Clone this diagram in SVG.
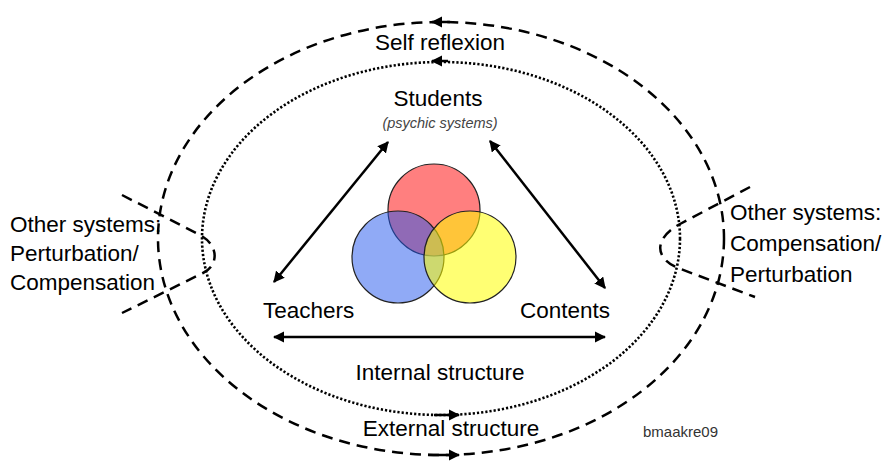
<svg xmlns="http://www.w3.org/2000/svg" width="889" height="474" viewBox="0 0 889 474">
<defs>
<style>
text{font-family:"Liberation Sans",Arial,sans-serif;fill:#000}
.lbl{font-size:22.5px}
.mid{text-anchor:middle}
.dash{fill:none;stroke:#000;stroke-width:2.5;stroke-dasharray:11 7}
.dot{fill:none;stroke:#000;stroke-width:2.6;stroke-dasharray:2.2 2}
.arr{fill:none;stroke:#000;stroke-width:2.5}
.circ{stroke:#222;stroke-width:1.2}
</style>
<marker id="ah" viewBox="0 0 10 10" refX="9" refY="5" markerWidth="4.5" markerHeight="4.5" orient="auto-start-reverse">
<path d="M0,0 L10,5 L0,10 Z" fill="#000"/>
</marker>
</defs>
<rect width="889" height="474" fill="#fff"/>

<g id="outer-ellipse">
<ellipse class="dash" cx="441" cy="238.5" rx="283" ry="216.5"/>
</g>
<g id="inner-ellipse">
<ellipse class="dot" cx="441" cy="238.5" rx="239" ry="176.5"/>
</g>

<g id="connectors">
<line class="arr" x1="450" y1="22" x2="432" y2="22" marker-end="url(#ah)"/>
<line class="arr" x1="448" y1="61" x2="432" y2="61" marker-end="url(#ah)"/>
<line class="arr" x1="434" y1="415" x2="459" y2="415" marker-end="url(#ah)"/>
<line class="arr" x1="428" y1="455" x2="459" y2="455" marker-end="url(#ah)"/>
<line class="arr" x1="274" y1="282" x2="388" y2="142" marker-start="url(#ah)" marker-end="url(#ah)"/>
<line class="arr" x1="490" y1="141" x2="605" y2="288" marker-start="url(#ah)" marker-end="url(#ah)"/>
<line class="arr" x1="274" y1="337" x2="605" y2="337" marker-start="url(#ah)" marker-end="url(#ah)"/>
</g>

<g id="left-other">
<path class="dash" d="M122,195 L200,235 C220,246 218,266 203,273 L122,313"/>
<text class="lbl" x="10" y="232">Other systems:</text>
<text class="lbl" x="10" y="261">Perturbation/</text>
<text class="lbl" x="10" y="290">Compensation</text>
</g>

<g id="right-other">
<path class="dash" d="M750,187 L680,224 C654,238 654,258 678,268 L755,297"/>
<text class="lbl" x="730" y="220">Other systems:</text>
<text class="lbl" x="730" y="251">Compensation/</text>
<text class="lbl" x="730" y="282">Perturbation</text>
</g>

<g id="venn">
<circle class="circ" cx="434" cy="210" r="46" fill="#ff0000" fill-opacity="0.5"/>
<circle class="circ" cx="398" cy="257" r="46" fill="#2255ee" fill-opacity="0.5"/>
<circle class="circ" cx="470" cy="257" r="46" fill="#ffff00" fill-opacity="0.55"/>
</g>

<g id="self-reflexion"><text class="lbl mid" x="440" y="50">Self reflexion</text></g>
<g id="students">
<text class="lbl mid" x="438" y="106">Students</text>
<text class="mid" x="440" y="128" font-size="14.5" font-style="italic" style="fill:#444">(psychic systems)</text>
</g>
<g id="teachers"><text class="lbl" x="263" y="318">Teachers</text></g>
<g id="contents"><text class="lbl" x="520" y="318">Contents</text></g>
<g id="internal"><text class="lbl mid" x="440" y="380">Internal structure</text></g>
<g id="external"><text class="lbl mid" x="451" y="436">External structure</text></g>
<g id="credit"><text x="643" y="437" font-size="15" style="fill:#333">bmaakre09</text></g>
</svg>
